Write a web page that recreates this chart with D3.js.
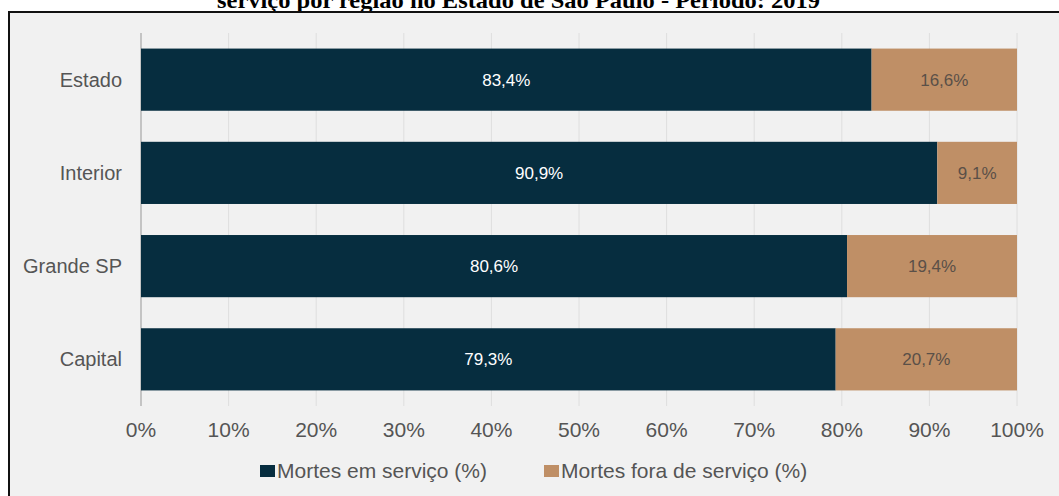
<!DOCTYPE html>
<html>
<head>
<meta charset="utf-8">
<script src="https://cdn.jsdelivr.net/npm/d3@7"></script>
<style>
  body { margin: 0; background: #fff; }
  svg { display: block; }
</style>
</head>
<body>
<div id="chart"></div>
<script>
const categories = ["Estado", "Interior", "Grande SP", "Capital"];
const emServico = [83.4, 90.9, 80.6, 79.3];
const foraServico = [16.6, 9.1, 19.4, 20.7];
const seriesNames = ["Mortes em serviço (%)", "Mortes fora de serviço (%)"];
const xTicks = [0, 10, 20, 30, 40, 50, 60, 70, 80, 90, 100];
const title = "serviço por região no Estado de São Paulo - Período:  2019";

const W = 1059, H = 496;
const colors = ["#062d3f", "#bf8f66"];

const svg = d3.select("#chart")
              .append("svg")
              .attr("width", W)
              .attr("height", H);

// caption above the frame (cut at top in the original)
svg.append("text")
   .attr("x", 217)
   .attr("y", 8)
   .attr("textLength", 603)
   .attr("lengthAdjust", "spacingAndGlyphs")
   .style("font-family", "'Liberation Serif', 'Times New Roman', serif")
   .style("font-weight", "bold")
   .style("font-size", "23px")
   .style("fill", "#000")
   .text(title);

// frame
svg.append("rect")
   .attr("x", 9)
   .attr("y", 12)
   .attr("width", W + 20)
   .attr("height", H + 20)
   .attr("fill", "#f1f1f1")
   .attr("stroke", "#111")
   .attr("stroke-width", 2);

const x = d3.scaleLinear()
            .domain([0, 100])
            .range([141, 1017]);

const y = d3.scaleBand()
            .domain(categories)
            .range([33, 406])
            .paddingInner(0.333)
            .paddingOuter(0.167);

const font = "'Liberation Sans', Arial, Helvetica, sans-serif";

// gridlines
svg.append("g")
   .selectAll("line")
   .data(xTicks.slice(1))
   .enter()
   .append("line")
   .attr("x1", d => x(d))
   .attr("x2", d => x(d))
   .attr("y1", 33)
   .attr("y2", 406)
   .attr("stroke", "#dedede")
   .attr("stroke-width", 1);

// left axis line
svg.append("line")
   .attr("x1", x(0))
   .attr("x2", x(0))
   .attr("y1", 33)
   .attr("y2", 406)
   .attr("stroke", "#c4c4c4")
   .attr("stroke-width", 2);

const data = categories.map((c, i) => ({ cat: c, a: emServico[i], b: foraServico[i] }));

const stack = d3.stack().keys(["a", "b"])(data);

const layers = svg.selectAll(".layer")
   .data(stack)
   .enter()
   .append("g")
   .attr("class", "layer")
   .attr("fill", (d, i) => colors[i]);

layers.selectAll("rect")
   .data(d => d)
   .enter()
   .append("rect")
   .attr("x", d => x(d[0]))
   .attr("y", d => y(d.data.cat))
   .attr("width", d => x(d[1]) - x(d[0]))
   .attr("height", y.bandwidth());

layers.selectAll(".label")
   .data(d => d)
   .enter()
   .append("text")
   .attr("class", "label")
   .attr("x", d => (x(d[0]) + x(d[1])) / 2)
   .attr("y", d => y(d.data.cat) + y.bandwidth() / 2)
   .attr("dy", "0.35em")
   .attr("text-anchor", "middle")
   .style("font-family", font)
   .style("font-size", "17px")
   .style("fill", function() {
     return d3.select(this.parentNode).datum().key === "a" ? "#ffffff" : "#5a5048";
   })
   .text(d => d3.format(".1f")(d[1] - d[0]).replace(".", ",") + "%");

// category labels
svg.append("g")
   .selectAll("text")
   .data(categories)
   .enter()
   .append("text")
   .attr("x", 122)
   .attr("y", d => y(d) + y.bandwidth() / 2)
   .attr("dy", "0.35em")
   .attr("text-anchor", "end")
   .style("font-family", font)
   .style("font-size", "20px")
   .style("fill", "#555")
   .text(d => d);

// x tick labels
svg.append("g")
   .selectAll("text")
   .data(xTicks)
   .enter()
   .append("text")
   .attr("x", d => x(d))
   .attr("y", 437)
   .attr("text-anchor", "middle")
   .style("font-family", font)
   .style("font-size", "21px")
   .style("fill", "#555")
   .text(d => d + "%");

// legend
const legendX = [260, 544];
const legend = svg.append("g")
   .selectAll("g")
   .data(seriesNames)
   .enter()
   .append("g")
   .attr("transform", (d, i) => `translate(${legendX[i]},0)`);

legend.append("rect")
   .attr("x", 0)
   .attr("y", 465)
   .attr("width", 15)
   .attr("height", 12)
   .attr("fill", (d, i) => colors[i]);

legend.append("text")
   .attr("x", 17)
   .attr("y", 478)
   .style("font-family", font)
   .style("font-size", "21px")
   .style("fill", "#555")
   .text(d => d);
</script>
</body>
</html>
